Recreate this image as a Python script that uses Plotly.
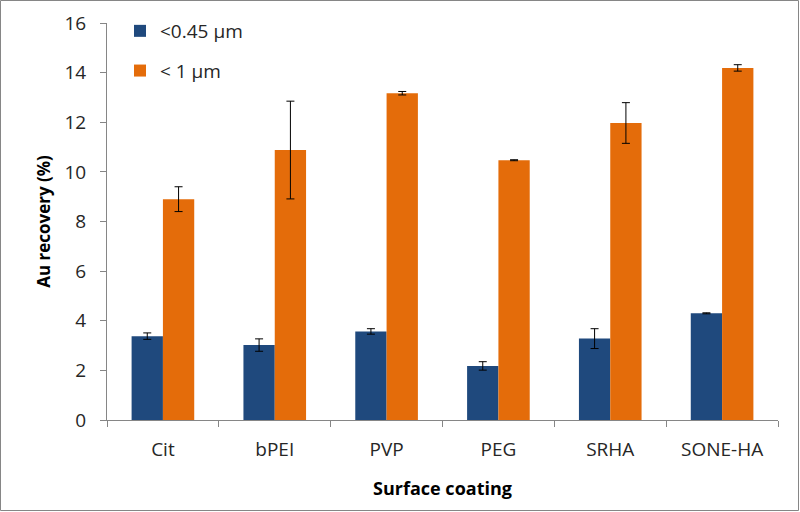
import plotly.graph_objects as go

categories = ["Cit", "bPEI", "PVP", "PEG", "SRHA", "SONE-HA"]
small_vals = [3.38, 3.02, 3.57, 2.18, 3.28, 4.30]
small_err = [0.13, 0.25, 0.11, 0.17, 0.40, 0.02]
large_vals = [8.90, 10.88, 13.17, 10.47, 11.97, 14.19]
large_err = [0.50, 1.97, 0.07, 0.02, 0.82, 0.13]
series_names = ["<0.45 µm", "< 1 µm"]
y_ticks = [0, 2, 4, 6, 8, 10, 12, 14, 16]

FONT = "Open Sans"
W, H = 800, 512
L, R, T, B = 107, 22, 23, 92
pw, ph = W - L - R, H - T - B

fig = go.Figure()
fig.add_trace(go.Bar(
    x=categories, y=small_vals, name=series_names[0],
    marker=dict(color="#1F497D", line=dict(width=0)),
    error_y=dict(type="data", array=small_err, color="#000000", thickness=1, width=4),
    legendgroup="a",
))
fig.add_trace(go.Bar(
    x=categories, y=large_vals, name=series_names[1],
    marker=dict(color="#E46C0A", line=dict(width=0)),
    error_y=dict(type="data", array=large_err, color="#000000", thickness=1, width=4),
    legendgroup="b",
))

fig.update_layout(
    width=W, height=H,
    margin=dict(l=L, r=R, t=T, b=B, autoexpand=False),
    paper_bgcolor="white", plot_bgcolor="white",
    barmode="group", bargap=0.44, bargroupgap=0,
    font=dict(family=FONT, size=18, color="#262626"),
    legend=dict(
        x=(120 - L) / pw, y=1.0 + 11 / ph, xanchor="left", yanchor="top",
        bgcolor="rgba(0,0,0,0)", font=dict(size=19, color="#262626"),
        tracegroupgap=12, itemwidth=30,
    ),
    xaxis=dict(
        showline=True, linecolor="#868686", linewidth=1,
        ticks="outside", ticklen=6, tickcolor="#868686",
        tickson="boundaries", ticklabelstandoff=12,
        showgrid=False, zeroline=False,
        title=dict(text="<b>Surface coating</b>", font=dict(size=18, color="#000000"), standoff=21),
        tickfont=dict(size=19, color="#262626"),
    ),
    yaxis=dict(
        range=[0, 16], tickvals=y_ticks,
        showline=True, linecolor="#868686", linewidth=1,
        ticks="outside", ticklen=6, tickcolor="#868686",
        ticklabelstandoff=10,
        showgrid=False, zeroline=False,
        title=dict(text="<b>Au recovery (%)</b>", font=dict(size=17, color="#000000"), standoff=9),
        tickfont=dict(size=19, color="#262626"),
    ),
    shapes=[dict(
        type="rect", xref="paper", yref="paper",
        x0=(0.5 - L) / pw, x1=(W - 1.5 - L) / pw,
        y0=-(H - 1.5 - T - ph) / ph, y1=1 + (T - 0.5) / ph,
        line=dict(color="#868686", width=1), fillcolor="rgba(0,0,0,0)", layer="below",
    )],
)

fig.write_html(
    "out.html",
    config={"displayModeBar": False},
    post_script="document.body.style.margin='0';document.body.style.overflow='hidden';",
)
